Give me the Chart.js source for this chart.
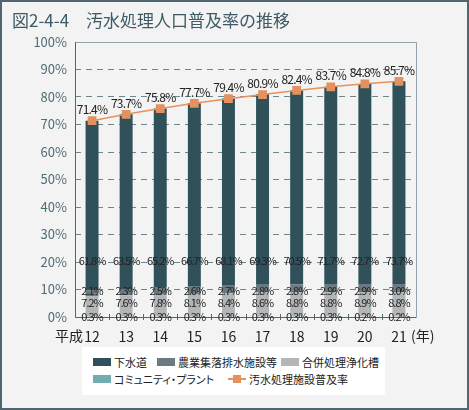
<!DOCTYPE html>
<html lang="ja">
<head>
<meta charset="utf-8">
<script src="https://cdn.jsdelivr.net/npm/chart.js@4"></script>
<style>
  html, body { margin: 0; padding: 0; background: #f3f3f3; }
  #wrap { position: relative; width: 469px; height: 410px; overflow: hidden; background: #f3f3f3; }
  #chart { position: absolute; left: 0; top: 0; }
  #frame { position: absolute; left: 0; top: 0; width: 469px; height: 410px; box-sizing: border-box; border: 2px solid #4e6670; pointer-events: none; }
  #title { position: absolute; left: 12px; top: 7px; font: 400 17px "Noto Sans CJK JP", sans-serif; color: #3d5a66; white-space: pre; }
  #legend { position: absolute; left: 82px; top: 347px; width: 303px; height: 48px; background: #fff; font: 11px "Noto Sans CJK JP", sans-serif; font-feature-settings: "palt"; color: #222; }
  .item { position: absolute; display: flex; align-items: center; white-space: nowrap; height: 16px; }
  .sw { width: 18px; height: 8px; margin-right: 3px; }
  .ln { position: relative; width: 18px; height: 8px; margin-right: 3px; }
  .ln::before { content: ""; position: absolute; left: 0; right: 0; top: 3px; height: 1.5px; background: #e8915a; }
  .ln::after { content: ""; position: absolute; left: 5px; top: 0; width: 8px; height: 8px; background: #e3925f; }
</style>
</head>
<body>
<div id="wrap">
  <canvas id="chart" width="469" height="410"></canvas>
  <div id="title">図2-4-4　汚水処理人口普及率の推移</div>
  <div id="legend"></div>
  <div id="frame"></div>
</div>
<script>
// Data (平成12〜21年度, %)
const years = ['12', '13', '14', '15', '16', '17', '18', '19', '20', '21'];
const sewer = [61.8, 63.5, 65.2, 66.7, 68.1, 69.3, 70.5, 71.7, 72.7, 73.7];
const rural = [2.1, 2.3, 2.5, 2.6, 2.7, 2.8, 2.8, 2.9, 2.9, 3.0];
const johkaso = [7.2, 7.6, 7.8, 8.1, 8.4, 8.6, 8.8, 8.8, 8.9, 8.8];
const community = [0.3, 0.3, 0.3, 0.3, 0.3, 0.3, 0.3, 0.3, 0.2, 0.2];
const total = [71.4, 73.7, 75.8, 77.7, 79.4, 80.9, 82.4, 83.7, 84.8, 85.7];

const names = ['下水道', '農業集落排水施設等', '合併処理浄化槽', 'コミュニティ・プラント', '汚水処理施設普及率'];
const colors = ['#30505a', '#6b7a81', '#b3b5b7', '#6fadb0', '#e8915a'];

// where each row of bar labels sits (y value)
const labelRows = [
  { data: sewer, at: 20.3 },
  { data: rural, at: 9.6 },
  { data: johkaso, at: 5.2 },
  { data: community, at: 0.2 }
];

const FONT = '"Noto Sans CJK JP", "Noto Sans", sans-serif';

function pct(v) {
  return v.toFixed(1) + '%';
}

// Build legend
function buildLegend() {
  const legend = document.getElementById('legend');
  const spots = [[11, 7], [75, 7], [199, 7], [11, 24], [146, 24]];
  names.forEach((name, i) => {
    const el = document.createElement('div');
    el.className = 'item';
    el.style.left = spots[i][0] + 'px';
    el.style.top = spots[i][1] + 'px';
    const mark = document.createElement('span');
    if (i === 4) {
      mark.className = 'ln';
    } else {
      mark.className = 'sw';
      mark.style.background = colors[i];
    }
    el.appendChild(mark);
    el.appendChild(document.createTextNode(name));
    legend.appendChild(el);
  });
}

const labelPlugin = {
  id: 'labels',
  beforeDatasetsDraw(chart) {
    const { ctx, chartArea: a } = chart;
    ctx.save();
    // frame of plot area
    ctx.lineWidth = 1;
    ctx.strokeStyle = '#8fa2a9';
    ctx.beginPath();
    ctx.moveTo(a.left, a.top + 0.5);
    ctx.lineTo(a.right + 0.5, a.top + 0.5);
    ctx.lineTo(a.right + 0.5, a.bottom);
    ctx.stroke();
    ctx.strokeStyle = '#4e6670';
    ctx.beginPath();
    ctx.moveTo(a.left + 0.5, a.top);
    ctx.lineTo(a.left + 0.5, a.bottom + 0.5);
    ctx.lineTo(a.right + 0.5, a.bottom + 0.5);
    ctx.stroke();
    // small ticks between categories
    const step = (a.right - a.left) / years.length;
    ctx.beginPath();
    for (let i = 1; i < years.length; i++) {
      const x = Math.round(a.left + step * i) + 0.5;
      ctx.moveTo(x, a.bottom - 3);
      ctx.lineTo(x, a.bottom + 3);
    }
    ctx.stroke();
    ctx.restore();
  },
  afterDatasetsDraw(chart) {
    const { ctx, chartArea: a, scales } = chart;
    const xs = scales.x, ys = scales.y;
    ctx.save();
    ctx.fillStyle = '#222';
    ctx.textAlign = 'center';
    // line labels
    ctx.font = '12px ' + FONT;
    ctx.letterSpacing = '-0.8px';
    ctx.textBaseline = 'bottom';
    total.forEach((v, i) => {
      ctx.fillText(pct(v), xs.getPixelForValue(i), ys.getPixelForValue(v) - 5);
    });
    // bar labels
    ctx.font = '11px ' + FONT;
    ctx.letterSpacing = '-1px';
    ctx.textBaseline = 'middle';
    labelRows.forEach(row => {
      row.data.forEach((v, i) => {
        ctx.fillText(pct(v), xs.getPixelForValue(i), ys.getPixelForValue(row.at));
      });
    });
    // axis extras
    ctx.letterSpacing = '0px';
    ctx.font = '14px ' + FONT;
    ctx.textAlign = 'right';
    ctx.fillText('平成', xs.getPixelForValue(0) - 9, a.bottom + 19);
    ctx.textAlign = 'left';
    ctx.fillText('(年)', xs.getPixelForValue(years.length - 1) + 12, a.bottom + 19);
    ctx.restore();
  }
};

function initializeChart() {
  const ctx = document.getElementById('chart').getContext('2d');
  const barSets = [community, johkaso, rural, sewer].map((data, k) => {
    const idx = [3, 2, 1, 0][k];
    return {
      type: 'bar',
      label: names[idx],
      data: data,
      backgroundColor: colors[idx],
      borderWidth: 0,
      stack: 'bars',
      order: 1,
      barPercentage: 0.76,
      categoryPercentage: 0.5
    };
  });
  new Chart(ctx, {
    data: {
      labels: years,
      datasets: [
        {
          type: 'line',
          label: names[4],
          data: total,
          borderColor: colors[4],
          backgroundColor: '#e3925f',
          borderWidth: 1.5,
          pointStyle: 'rect',
          pointRadius: 6.2,
          pointBorderWidth: 0,
          stack: 'line',
          order: 0
        },
        ...barSets
      ]
    },
    options: {
      responsive: false,
      animation: false,
      layout: { padding: { left: 0, top: 42, right: 53, bottom: 63 } },
      plugins: {
        legend: { display: false },
        tooltip: { enabled: false }
      },
      scales: {
        x: {
          stacked: true,
          grid: { display: false, drawTicks: false },
          border: { display: false },
          ticks: { color: '#222', padding: 11, font: { family: FONT, size: 14 } },
          afterFit: scale => { scale.height = 30; }
        },
        y: {
          stacked: true,
          min: 0,
          max: 100,
          grid: {
            drawTicks: false,
            lineWidth: 1,
            color: c => (c.tick && (c.tick.value === 0 || c.tick.value === 100)) ? 'rgba(0,0,0,0)' : '#6f858e'
          },
          border: { display: false, dash: [6, 5] },
          ticks: {
            stepSize: 10,
            color: '#4f6b76',
            padding: 8,
            font: { family: FONT, size: 13 },
            callback: v => v + '%'
          },
          afterFit: scale => { scale.width = 75; }
        }
      }
    },
    plugins: [labelPlugin]
  });
}

document.addEventListener('DOMContentLoaded', function() {
  buildLegend();
  initializeChart();
});
</script>
</body>
</html>
